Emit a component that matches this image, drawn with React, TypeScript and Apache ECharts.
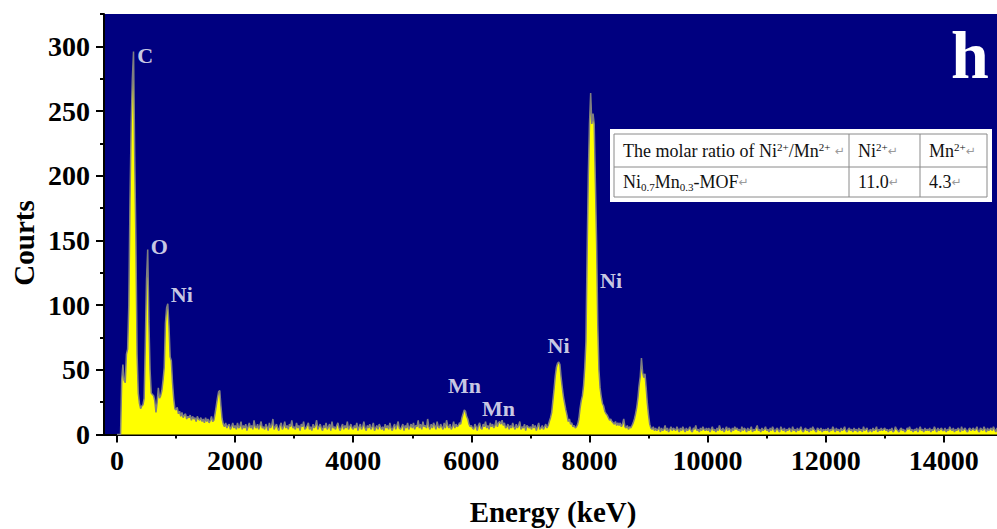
import React, { useEffect, useRef } from 'react';
import * as echarts from 'echarts';

// EDS spectrum: counts per 20 eV channel, starting at 0 eV
const CHANNEL_WIDTH_EV = 20;
const COUNTS: number[] = [
  0, 0, 0, 0, 42, 54, 42, 40, 62, 66, 100, 180, 240, 275, 296, 215, 150, 62, 32, 24, 20, 22, 23, 28, 72,
  120, 143, 88, 50, 32, 31, 30, 26, 17, 25, 36, 28, 30, 34, 42, 52, 86, 98, 101, 84, 60, 57, 40, 28, 20,
  19, 21, 16, 18, 14, 17, 13, 15, 16, 12, 14, 13, 15, 11, 14, 12, 13, 10, 14, 12, 11, 13, 10, 12, 9,
  13, 10, 12, 9, 11, 14, 10, 11, 16, 22, 28, 33, 34, 22, 12, 8, 6, 9, 5, 7, 8, 4, 6, 9, 5,
  7, 4, 9, 5, 6, 10, 4, 7, 5, 8, 3, 6, 9, 5, 7, 4, 11, 6, 5, 8, 4, 7, 10, 5, 6,
  4, 8, 6, 3, 9, 5, 7, 12, 4, 6, 8, 5, 3, 7, 9, 4, 6, 10, 5, 7, 4, 8, 6, 11, 5,
  6, 4, 9, 5, 7, 3, 8, 6, 10, 4, 5, 7, 9, 4, 6, 3, 8, 5, 7, 11, 4, 6, 8, 5, 3,
  7, 5, 9, 4, 6, 8, 3, 10, 5, 6, 4, 7, 9, 5, 3, 6, 8, 4, 7, 5, 10, 4, 6, 8, 5,
  4, 7, 5, 9, 3, 6, 8, 4, 6, 10, 5, 3, 7, 5, 8, 4, 6, 9, 3, 5, 7, 4, 8, 6, 4,
  6, 3, 8, 5, 7, 4, 9, 5, 3, 6, 8, 4, 7, 10, 5, 4, 6, 8, 3, 7, 5, 9, 4, 6, 8,
  5, 9, 4, 7, 6, 11, 5, 8, 4, 10, 6, 7, 5, 12, 6, 4, 8, 5, 9, 7, 4, 10, 6, 5, 8,
  6, 4, 9, 5, 11, 7, 5, 8, 4, 6, 10, 5, 8, 6, 7, 9, 8, 13, 16, 19, 18, 14, 12, 8, 6,
  7, 5, 4, 8, 6, 3, 7, 9, 5, 4, 8, 6, 10, 5, 7, 4, 9, 6, 8, 5, 7, 11, 6, 9, 10,
  8, 11, 7, 9, 5, 6, 8, 4, 7, 5, 9, 6, 4, 8, 5, 7, 10, 4, 6, 5, 8, 3, 7, 6, 5,
  6, 4, 8, 5, 7, 3, 6, 9, 4, 5, 7, 4, 6, 8, 5, 7, 10, 13, 17, 26, 35, 45, 52, 55, 56,
  54, 44, 36, 29, 24, 19, 15, 10, 12, 8, 9, 6, 7, 5, 6, 8, 12, 20, 26, 30, 38, 52, 72, 140, 200,
  240, 264, 240, 248, 240, 195, 150, 85, 50, 36, 29, 24, 22, 18, 16, 15, 13, 11, 12, 10, 9, 8, 10, 7, 9,
  7, 9, 6, 8, 12, 6, 5, 7, 4, 6, 5, 7, 9, 12, 16, 21, 28, 38, 45, 59, 48, 44, 47, 36, 24,
  15, 8, 5, 4, 6, 3, 5, 3, 4, 6, 2, 5, 3, 4, 7, 3, 5, 2, 4, 6, 3, 5, 4, 3, 6,
  4, 2, 5, 3, 6, 4, 2, 5, 3, 4, 6, 3, 2, 5, 4, 7, 3, 4, 2, 5, 3, 6, 4, 3, 5,
  3, 5, 2, 4, 6, 3, 4, 2, 5, 3, 7, 4, 3, 5, 2, 4, 6, 3, 5, 4, 2, 5, 3, 6, 4,
  5, 3, 4, 2, 6, 3, 5, 4, 2, 5, 3, 4, 6, 2, 4, 3, 5, 7, 3, 4, 2, 5, 3, 4, 6,
  3, 4, 2, 5, 3, 6, 4, 2, 4, 5, 3, 2, 6, 4, 3, 5, 2, 4, 3, 5, 4, 2, 6, 3, 4,
  2, 5, 3, 4, 6, 3, 2, 4, 5, 3, 4, 2, 5, 3, 6, 4, 3, 2, 5, 4, 3, 5, 2, 4, 3,
  4, 3, 5, 2, 4, 3, 6, 4, 2, 5, 3, 4, 2, 5, 3, 4, 6, 3, 2, 4, 5, 3, 4, 2, 5,
  3, 4, 2, 5, 3, 4, 2, 6, 3, 4, 5, 2, 3, 4, 2, 5, 3, 4, 6, 2, 4, 3, 5, 3, 4,
  5, 3, 4, 2, 4, 3, 5, 2, 3, 6, 4, 3, 2, 4, 5, 3, 4, 2, 3, 5, 4, 6, 3, 4, 2,
  4, 3, 5, 2, 4, 6, 3, 4, 2, 5, 3, 4, 3, 5, 2, 4, 3, 6, 4, 2, 5, 3, 4, 5, 3,
  3, 5, 2, 4, 3, 6, 4, 3, 5, 2, 4, 3, 5, 4, 2, 6, 3, 4, 5, 3, 2, 4, 5, 3, 4,
  5, 3, 4, 6, 3, 2, 5, 4, 3, 6, 4, 2, 5, 3, 4, 5, 3, 6, 4, 2, 5, 3, 4, 5, 3,
];

const X_MIN = -220;
const X_MAX = 14900;
const Y_MIN = 0;
const Y_MAX = 325;
const X_MAJOR_TICKS = [0, 2000, 4000, 6000, 8000, 10000, 12000, 14000];
const X_MINOR_TICKS = [1000, 3000, 5000, 7000, 9000, 11000, 13000];
const Y_MAJOR_TICKS = [0, 50, 100, 150, 200, 250, 300];
const Y_MINOR_TICKS = [25, 75, 125, 175, 225, 275, 325];

const PEAK_LABELS = ['C', 'O', 'Ni', 'Mn', 'Mn', 'Ni', 'Ni'];
const PEAK_LABEL_ENERGY = [479, 717, 1098, 5884, 6459, 7476, 8365];
const PEAK_LABEL_COUNTS = [293, 145, 108, 38, 20, 69, 119];

const X_NAME = 'Energy (keV)';
const Y_NAME = 'Courts';
const PANEL_LETTER = 'h';

const TABLE_HEADER = ['The molar ratio of Ni{sup|2+}/Mn{sup|2+} {r|↵}', 'Ni{sup|2+}{r|↵}', 'Mn{sup|2+}{r|↵}'];
const TABLE_SAMPLE = ['Ni{sub|0.7}Mn{sub|0.3}-MOF{r|↵}', '11.0{r|↵}', '4.3{r|↵}'];

export default function App() {
  const ref = useRef<HTMLDivElement>(null);

  useEffect(() => {
    if (!ref.current) return;
    const chart = echarts.init(ref.current, null, { renderer: 'svg' });
    const serif = '"Liberation Serif", "Times New Roman", serif';
    const spectrum = COUNTS.map((c, i) => [i * CHANNEL_WIDTH_EV, c]);
    const labelData = PEAK_LABELS.map((n, i) => ({ name: n, value: [PEAK_LABEL_ENERGY[i], PEAK_LABEL_COUNTS[i]] }));

    const tickFont = {
      fontSize: 28,
      fontWeight: 'bold' as const,
      fontFamily: serif,
      color: '#000',
      formatter: (v: number) => String(v),
    };
    const axisLineStyle = { color: '#000', width: 2 };

    const rich = {
      sup: { fontSize: 11, lineHeight: 11, verticalAlign: 'top', fontFamily: serif, fill: '#111', color: '#111' },
      sub: { fontSize: 11, lineHeight: 11, verticalAlign: 'bottom', fontFamily: serif, fill: '#111', color: '#111' },
      r: { fontSize: 12, lineHeight: 20, fontFamily: '"DejaVu Sans", sans-serif', fill: '#9a9a9a', color: '#9a9a9a' },
    };
    const cellText = (text: string, x: number, y: number) => ({
      type: 'text',
      x,
      y,
      z: 101,
      style: {
        text,
        fill: '#111',
        fontSize: 18,
        fontFamily: serif,
        lineHeight: 20,
        align: 'left',
        textAlign: 'left',
        verticalAlign: 'middle',
        textVerticalAlign: 'middle',
        rich,
      },
    });
    const border = { stroke: '#8a8a8a', lineWidth: 1 };
    const hLine = (y: number) => ({ type: 'line', z: 101, shape: { x1: 614, y1: y, x2: 987, y2: y }, style: border });
    const vLine = (x: number) => ({ type: 'line', z: 101, shape: { x1: x, y1: 134, x2: x, y2: 197 }, style: border });
    const colX = [623, 858, 929];

    const option: any = {
      animation: false,
      grid: {
        left: 104,
        right: 0,
        top: 14,
        bottom: 94.5,
        show: true,
        backgroundColor: '#000080',
        borderWidth: 0,
        containLabel: false,
        outerBoundsMode: 'none',
      },
      xAxis: [
        {
          type: 'value',
          min: X_MIN,
          max: X_MAX,
          position: 'bottom',
          axisLine: { show: true, onZero: false, lineStyle: axisLineStyle },
          axisTick: { show: true, length: 8, customValues: X_MAJOR_TICKS, lineStyle: axisLineStyle },
          axisLabel: { show: true, customValues: X_MAJOR_TICKS, margin: 12, ...tickFont },
          splitLine: { show: false },
        },
        {
          type: 'value',
          min: X_MIN,
          max: X_MAX,
          position: 'bottom',
          axisLine: { show: false, onZero: false },
          axisTick: { show: true, length: 4, customValues: X_MINOR_TICKS, lineStyle: axisLineStyle },
          axisLabel: { show: false },
          splitLine: { show: false },
        },
      ],
      yAxis: [
        {
          type: 'value',
          min: Y_MIN,
          max: Y_MAX,
          position: 'left',
          axisLine: { show: true, onZero: false, lineStyle: axisLineStyle },
          axisTick: { show: true, length: 8, customValues: Y_MAJOR_TICKS, lineStyle: axisLineStyle },
          axisLabel: { show: true, customValues: Y_MAJOR_TICKS, margin: 14, ...tickFont },
          splitLine: { show: false },
        },
        {
          type: 'value',
          min: Y_MIN,
          max: Y_MAX,
          position: 'left',
          axisLine: { show: false, onZero: false },
          axisTick: { show: true, length: 4, customValues: Y_MINOR_TICKS, lineStyle: axisLineStyle },
          axisLabel: { show: false },
          splitLine: { show: false },
        },
      ],
      series: [
        {
          type: 'line',
          data: spectrum,
          xAxisIndex: 0,
          yAxisIndex: 0,
          showSymbol: false,
          symbol: 'none',
          silent: true,
          z: 2,
          lineStyle: { color: '#808080', width: 1.5 },
          itemStyle: { color: '#808080' },
          areaStyle: { color: '#ffff00', opacity: 1 },
        },
        {
          type: 'scatter',
          data: labelData,
          xAxisIndex: 0,
          yAxisIndex: 0,
          symbolSize: 1,
          silent: true,
          z: 5,
          itemStyle: { color: 'rgba(0,0,0,0)' },
          label: {
            show: true,
            position: 'inside',
            formatter: '{b}',
            color: '#ffffff',
            fontSize: 22,
            fontWeight: 'bold',
            fontFamily: serif,
          },
        },
      ],
      graphic: [
        {
          type: 'text',
          x: 553,
          y: 512,
          z: 100,
          style: {
            text: X_NAME, fill: '#000', fontSize: 29, fontWeight: 'bold', fontFamily: serif,
            align: 'center', textAlign: 'center', verticalAlign: 'middle', textVerticalAlign: 'middle',
          },
        },
        {
          type: 'text',
          x: 24,
          y: 243,
          rotation: Math.PI / 2,
          z: 100,
          style: {
            text: Y_NAME, fill: '#000', fontSize: 29, fontWeight: 'bold', fontFamily: serif,
            align: 'center', textAlign: 'center', verticalAlign: 'middle', textVerticalAlign: 'middle',
          },
        },
        {
          type: 'text',
          x: 970,
          y: 55,
          z: 100,
          style: {
            text: PANEL_LETTER, fill: '#ffffff', fontSize: 68, fontWeight: 'bold', fontFamily: serif,
            align: 'center', textAlign: 'center', verticalAlign: 'middle', textVerticalAlign: 'middle',
          },
        },
        { type: 'rect', z: 100, shape: { x: 610, y: 129, width: 382, height: 73 }, style: { fill: '#ffffff' } },
        hLine(134),
        hLine(167),
        hLine(197),
        vLine(614),
        vLine(849),
        vLine(920),
        vLine(987),
        ...TABLE_HEADER.map((t, i) => cellText(t, colX[i], 151)),
        ...TABLE_SAMPLE.map((t, i) => cellText(t, colX[i], 182)),
      ],
    };

    chart.setOption(option);
    return () => chart.dispose();
  }, []);

  return (
    <div
      ref={ref}
      style={{ position: 'fixed', left: 0, top: 0, width: 997, height: 529, background: '#ffffff' }}
    />
  );
}
